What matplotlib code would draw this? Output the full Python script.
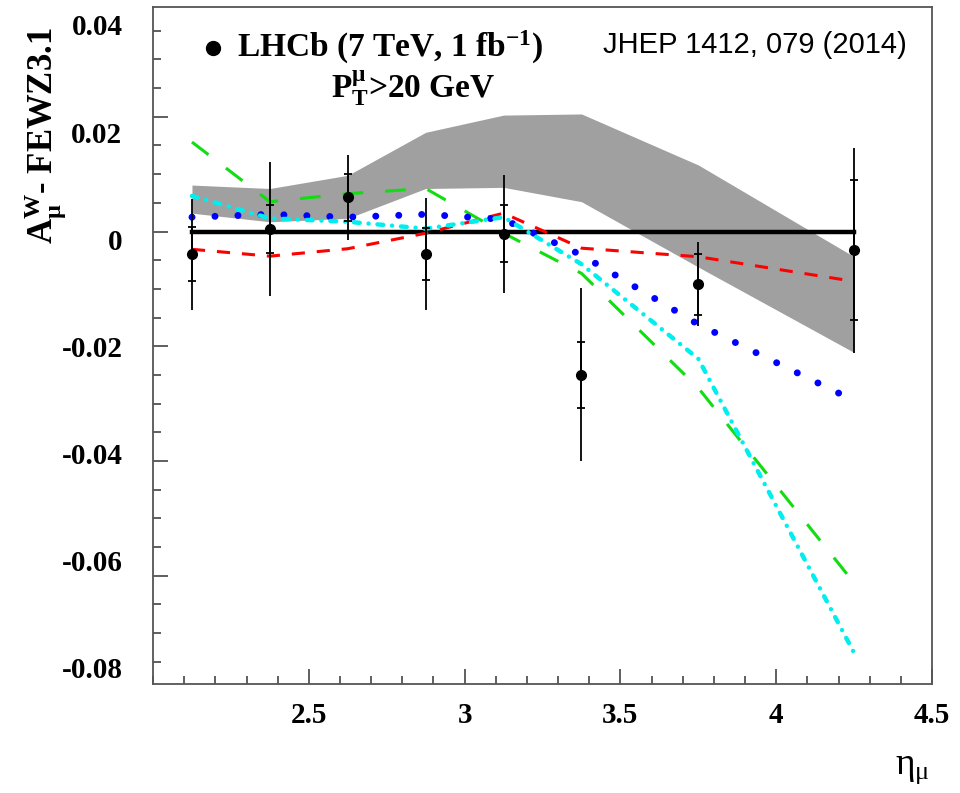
import matplotlib
matplotlib.use("Agg")
from matplotlib import pyplot as plt

plt.rcParams["font.family"] = ["Liberation Serif", "DejaVu Serif"]
plt.rcParams["mathtext.fontset"] = "custom"
plt.rcParams["mathtext.rm"] = "Liberation Serif"
plt.rcParams["mathtext.it"] = "Liberation Serif:italic"
plt.rcParams["mathtext.bf"] = "Liberation Serif:bold"

# LHCb W muon charge asymmetry minus FEWZ3.1, in bins of muon eta
eta = [2.125, 2.375, 2.625, 2.875, 3.125, 3.375, 3.75, 4.25]
lhcb = [-0.0040, 0.0005, 0.0060, -0.0039, -0.0004, -0.0250, -0.0092, -0.0033]
err_stat = [0.0047, 0.0042, 0.0041, 0.0045, 0.0050, 0.0058, 0.0053, 0.0122]
err_tot = [0.0096, 0.0117, 0.0074, 0.0097, 0.0103, 0.0151, 0.0073, 0.0179]

band_hi = [0.0081, 0.0075, 0.0098, 0.0173, 0.0203, 0.0205, 0.0116, -0.0044]
band_lo = [0.0032, 0.0017, 0.0023, 0.0075, 0.0077, 0.0052, -0.0062, -0.0211]

green = [0.0156, 0.0052, 0.0066, 0.0075, -0.0003, -0.0073, -0.0273, -0.0613]
red = [-0.0031, -0.0043, -0.0030, -0.0003, 0.0032, -0.0029, -0.0044, -0.0087]
blue = [0.0025, 0.0030, 0.0025, 0.0030, 0.0021, -0.0041, -0.0162, -0.0295]
cyan = [0.0062, 0.0023, 0.0017, 0.0005, 0.0025, -0.0057, -0.0222, -0.0735]

xticks = [2.5, 3, 3.5, 4, 4.5]
xtick_labels = ["2.5", "3", "3.5", "4", "4.5"]
yticks = [0.04, 0.02, 0, -0.02, -0.04, -0.06, -0.08]
ytick_labels = ["0.04", "0.02", "0", "-0.02", "-0.04", "-0.06", "-0.08"]

fig = plt.figure(figsize=(9.6, 7.93), dpi=100)
ax = fig.add_axes([0.1594, 0.1375, 0.8115, 0.8533])

ax.fill_between(eta, band_lo, band_hi, color="#a0a0a0", lw=0, zorder=1)
ax.plot([eta[0], eta[-1]], [0, 0], color="black", lw=3.2, zorder=3)

ax.plot(eta, green, color="#11dd11", lw=2.2, linestyle=(0, (6.8, 7.2)), zorder=4)
ax.plot(eta, red, color="#ff0000", lw=2.2, linestyle=(0, (4.3, 3.9)), zorder=4)
ax.plot(eta, blue, color="#0000ff", lw=5.0, linestyle=(0, (0.01, 3.3)),
        dash_capstyle="round", zorder=4)
ax.plot(eta, cyan, color="#00eeee", lw=3.2, linestyle=(0, (1.3, 2.0, 0.01, 2.0)),
        dash_capstyle="round", zorder=5)

ax.errorbar(eta, lhcb, yerr=err_tot, fmt="o", color="black", ms=7,
            elinewidth=1.3, capsize=0, zorder=6)
ax.errorbar(eta, lhcb, yerr=err_stat, fmt="none", ecolor="black",
            elinewidth=1.3, capsize=3, capthick=1.3, zorder=6)

ax.set_xlim(2.0, 4.5)
ax.set_ylim(-0.0789, 0.0391)

ax.set_xticks(xticks, xtick_labels)
ax.set_xticks([2.0 + 0.1 * i for i in range(26)], minor=True)
ax.set_yticks([0.02, 0, -0.02, -0.04, -0.06])
ax.set_yticks([-0.075 + 0.005 * i for i in range(23)], minor=True)
ax.tick_params(which="both", direction="in", top=False, right=False,
               color="#444444", width=1.2)
ax.tick_params(which="major", length=11)
ax.tick_params(which="minor", length=6)
ax.tick_params(axis="x", labelsize=21, pad=13)
ax.tick_params(axis="y", labelleft=False)
for lab in ax.get_xticklabels():
    lab.set_fontweight("bold")
for sp in ax.spines.values():
    sp.set_color("#555555")
    sp.set_linewidth(1.3)

# y tick labels sit on their own (slightly compressed) scale in the original
lab_ax = ax.twinx()
lab_ax.set_ylim(-0.08299, 0.04330)
lab_ax.set_yticks(yticks, ytick_labels)
lab_ax.tick_params(left=True, labelleft=True, right=False, labelright=False,
                   length=0, pad=22, labelsize=21)
for lab in lab_ax.get_yticklabels():
    lab.set_fontweight("bold")
for sp in lab_ax.spines.values():
    sp.set_visible(False)

ax.text(-0.139, 0.810, r"$\mathbf{A^{W}_{\mu}}$- FEWZ3.1", transform=ax.transAxes,
        rotation=90, ha="center", va="center", fontsize=25, fontweight="bold")
ax.text(0.975, -0.125, r"$\mathrm{\eta}_{\mathrm{\mu}}$", transform=ax.transAxes,
        ha="center", va="center", fontsize=27)

ax.plot([0.077], [0.94], "o", color="black", ms=10, transform=ax.transAxes,
        clip_on=False)
ax.text(0.108, 0.94, r"LHCb (7 TeV, 1 fb$^{\mathbf{-1}}$)", transform=ax.transAxes,
        ha="left", va="center", fontsize=24, fontweight="bold")
ax.text(0.334, 0.881, r"P$^{\mathbf{\mu}}_{\mathbf{T}}$>20 GeV", transform=ax.transAxes,
        ha="center", va="center", fontsize=24, fontweight="bold")
ax.text(0.578, 0.944, "JHEP 1412, 079 (2014)", transform=ax.transAxes,
        ha="left", va="center", fontsize=21, family="Liberation Sans")

fig.savefig("out.png", dpi=100)
